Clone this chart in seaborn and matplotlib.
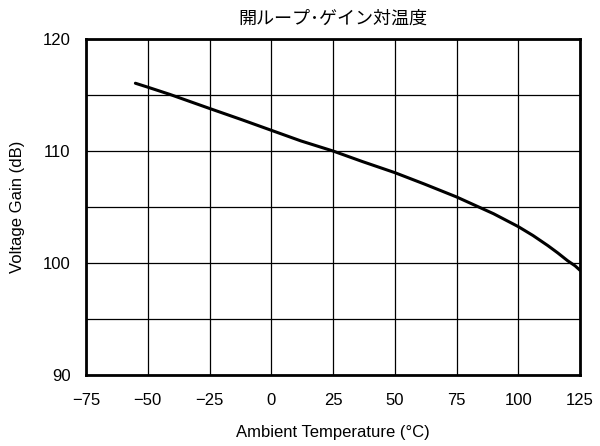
import matplotlib
matplotlib.use("Agg")
import matplotlib.pyplot as plt
import seaborn as sns
import pandas as pd

temps = [-55, -50, -41, -25, -12, 0, 12, 25, 37, 50, 62, 75, 84, 90, 100, 106, 112, 116, 120, 123, 125]
gain = [116.05, 115.7, 115.05, 113.8, 112.8, 111.85, 110.9, 110.0, 109.05, 108.07, 107.05, 105.9, 105.0, 104.4, 103.25, 102.45, 101.55, 100.9, 100.2, 99.75, 99.35]
xticks = [-75, -50, -25, 0, 25, 50, 75, 100, 125]
xticklabels = ["\u221275", "\u221250", "\u221225", "0", "25", "50", "75", "100", "125"]
yticks = [90, 100, 110, 120]
ygrid = [95, 105, 115]

sns.set_theme(style="white")
plt.rcParams['font.family'] = ['Liberation Sans', 'DejaVu Sans']

df = pd.DataFrame({"T": temps, "G": gain})
fig = plt.figure(figsize=(6, 4.46), dpi=100)
ax = fig.add_axes([86/600, 1-375/446, (580-86)/600, (375-39)/446])
sns.lineplot(data=df, x="T", y="G", ax=ax, color="black", linewidth=2.2)
ax.set_xlim(-75, 125)
ax.set_ylim(90, 120)
ax.set_xticks(xticks)
ax.set_xticklabels(xticklabels)
ax.set_yticks(yticks)
ax.set_yticks(ygrid, minor=True)
ax.grid(True, which="both", color="black", linewidth=0.9)
ax.tick_params(axis="x", which="both", length=0, labelsize=12, colors="black", pad=13)
ax.tick_params(axis="y", which="both", length=0, labelsize=12, colors="black", pad=11)
for s in ax.spines.values():
    s.set_color("black")
    s.set_linewidth(2)
ax.set_xlabel("Ambient Temperature (\u00b0C)", fontsize=12, color="black", labelpad=12)
ax.set_ylabel("Voltage Gain (dB)", fontsize=12, color="black", labelpad=13)
ax.set_title("開ループ･ゲイン対温度", fontsize=13, color="black", pad=11,
             family=['Noto Sans CJK JP', 'DejaVu Sans'])
fig.savefig("out.png", dpi=100)
